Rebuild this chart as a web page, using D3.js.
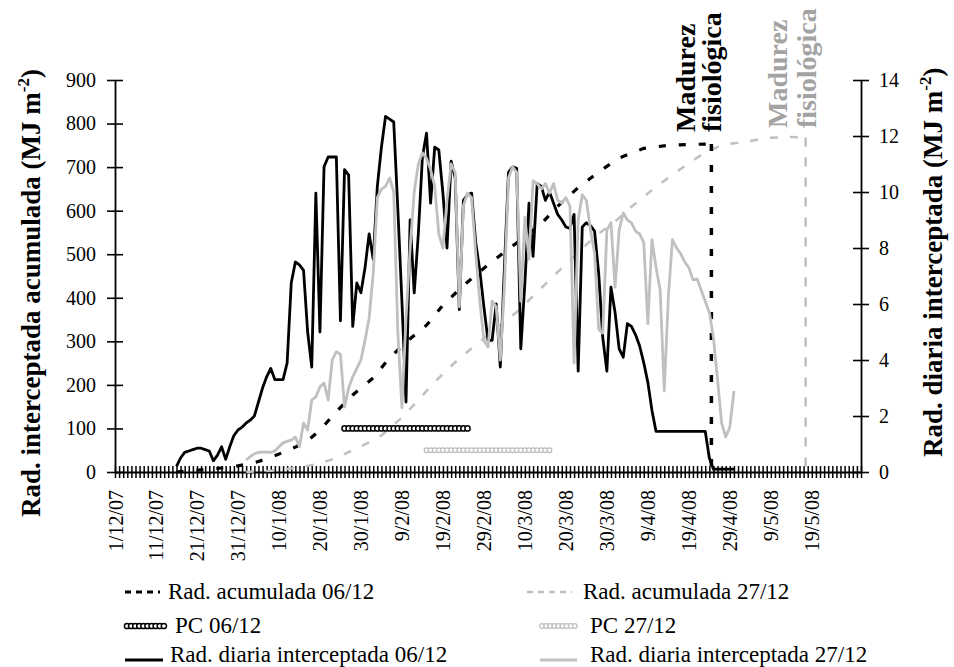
<!DOCTYPE html>
<html><head><meta charset="utf-8">
<script src="https://cdn.jsdelivr.net/npm/d3@7"></script>
<style>
html,body{margin:0;padding:0;background:#fff;}
svg{display:block;font-family:"Liberation Serif","Times New Roman",serif;}
</style></head><body>
<svg id="chart" width="954" height="667"></svg>
<script>
// Days are counted from 1/12/2007 (day 0).
const xTickDays = [0,10,20,30,40,50,60,70,80,90,100,110,120,130,140,150,160,170];
const xTickLabels = ["1/12/07","11/12/07","21/12/07","31/12/07","10/1/08","20/1/08","30/1/08","9/2/08","19/2/08","29/2/08","10/3/08","20/3/08","30/3/08","9/4/08","19/4/08","29/4/08","9/5/08","19/5/08"];
const leftTicks = [0,100,200,300,400,500,600,700,800,900];
const rightTicks = [0,2,4,6,8,10,12,14];

// Daily intercepted radiation (MJ m-2), consecutive days from the start day.
const diaria0612Start = 15;
const diaria0612 = [0.2,0.5,0.7,0.75,0.8,0.85,0.85,0.8,0.75,0.4,0.6,0.9,0.45,0.9,1.3,1.5,1.6,1.75,1.85,2.0,
  2.5,3.0,3.4,3.7,3.3,3.3,3.3,3.9,6.75,7.5,7.4,7.2,5.0,3.75,9.96,5.0,10.9,11.25,11.25,11.25,
  5.4,10.8,10.6,5.2,6.75,6.4,7.3,8.5,7.6,10.2,11.6,12.7,12.6,12.5,9.4,6.1,2.5,9.0,6.4,8.5,
  11.25,12.1,9.6,11.6,11.5,9.96,8.0,11.1,10.5,5.8,9.7,9.9,9.96,8.2,7.2,5.9,4.7,4.7,6.0,3.75,
  7.3,10.7,10.9,10.85,4.4,6.75,9.6,7.7,10.3,10.2,9.7,10.0,9.6,9.2,9.0,8.75,8.7,9.2,3.6,8.75,
  8.9,8.8,8.6,7.1,4.8,3.6,6.6,5.7,4.4,4.1,5.3,5.2,4.9,4.5,3.9,3.2,2.2,1.45,1.45,1.45,
  1.45,1.45,1.45,1.45,1.45,1.45,1.45,1.45,1.45,1.45,0.5,0.1,0.1,0.1,0.1,0.1,0.1];
const diaria2712Start = 32;
const diaria2712 = [0.43,0.55,0.65,0.7,0.71,0.71,0.7,0.75,0.9,1.04,1.1,1.14,1.25,0.9,1.75,1.5,2.57,2.68,3.04,3.18,
  2.57,4.0,4.3,4.2,2.32,3.0,3.4,3.7,4.0,4.7,5.5,7.1,9.8,10.1,10.2,10.5,10.0,5.0,2.3,5.5,
  8.0,10.0,11.0,11.4,11.2,10.8,10.2,8.5,8.0,9.7,11.0,10.7,5.9,9.5,9.96,9.8,7.8,6.1,4.7,4.46,
  6.1,5.9,4.0,6.6,10.5,10.9,10.7,6.1,9.1,7.6,10.4,10.3,10.1,10.3,9.96,10.3,9.7,9.6,9.8,9.5,
  3.9,9.0,9.9,9.7,8.64,7.8,5.1,4.96,8.64,8.9,6.6,8.64,9.25,9.0,8.9,8.6,8.5,8.2,5.3,8.3,
  7.3,6.5,2.9,6.25,8.3,8.0,7.8,7.5,7.3,6.86,6.9,6.5,6.1,5.7,4.8,3.3,1.75,1.25,1.6,2.9];

// Accumulated intercepted radiation (MJ m-2): [day, value]
const acumulada0612 = [[15,0],[20,4],[25,8],[30,14],[35,24],[38,34],[41,45],[44,57],[47,72],[50,96],
  [53,128],[56,158],[58,177],[61,200],[63,216],[67,262],[71,298],[76,337],[80,383],[85,428],
  [90,468],[95,505],[100,540],[104,570],[108,610],[113,653],[118,689],[123,721],[129,743],
  [135,750],[140,752],[145.5,753]];
const acumulada2712 = [[32,0],[38,3],[42,7],[46,12],[50,20],[54,32],[58,50],[62,68],[65,84],[70,125],
  [74,165],[78,207],[83,252],[88,292],[93,330],[98,367],[103,413],[107,450],[112,495],[117,540],
  [122,575],[126,609],[132,655],[137,689],[143,728],[148,751],[154,758],[159,767],[165,769],[168.5,768]];

// Critical period (first and last day) and its plotted level
const pcPeriod0612 = [56, 86];
const pcLevel0612 = 100;
const pcPeriod2712 = [76, 106];
const pcLevel2712 = 50;

// Physiological maturity (day)
const madurez0612 = 145.5;
const madurez2712 = 168.5;

const BLACK = "#000", GRAY = "#c0c0c0", GRAYTXT = "#a3a3a3";

const svg = d3.select("#chart");
const x = d3.scaleLinear().domain([0, 182]).range([115, 861]);
const yL = d3.scaleLinear().domain([0, 900]).range([472, 80]);
const yR = d3.scaleLinear().domain([0, 14]).range([472, 80]);

const toPairs = (start, vals) => vals.map((v, i) => [start + i, v]);

// ---- axes ----
const allDays = d3.range(0, 183);
svg.append("g").attr("transform", "translate(0,472)")
  .call(d3.axisBottom(x).tickValues(allDays).tickSizeInner(6).tickSizeOuter(0).tickFormat(""))
  .call(g => g.selectAll("line").attr("stroke-width", 1.5));
svg.append("g").attr("transform", "translate(0,472)")
  .call(d3.axisTop(x).tickValues(allDays).tickSizeInner(6).tickSizeOuter(0).tickFormat(""))
  .call(g => g.select(".domain").attr("stroke-width", 1.8))
  .call(g => g.selectAll("line").attr("stroke-width", 1.5));

svg.append("g").attr("transform", "translate(0,472)")
  .call(d3.axisBottom(x).tickValues(xTickDays).tickSize(0).tickFormat((d, i) => xTickLabels[i]))
  .call(g => g.select(".domain").remove())
  .call(g => g.selectAll("text")
    .attr("font-family", "Liberation Serif").attr("font-size", 20).attr("fill", "#000")
    .attr("transform", "rotate(-90)").attr("text-anchor", "end")
    .attr("x", -18).attr("y", 0).attr("dy", "0.35em"));

function yAxis(scale, ticks, xpos, labelSide) {
  const main = labelSide === "left" ? d3.axisLeft(scale) : d3.axisRight(scale);
  const other = labelSide === "left" ? d3.axisRight(scale) : d3.axisLeft(scale);
  svg.append("g").attr("transform", `translate(${xpos},0)`)
    .call(main.tickValues(ticks).tickSizeInner(8).tickSizeOuter(0).tickPadding(labelSide === "left" ? 11 : 10))
    .call(g => g.select(".domain").attr("stroke-width", 1.8))
    .call(g => g.selectAll("line").attr("stroke-width", 1.6))
    .call(g => g.selectAll("text").attr("font-family", "Liberation Serif").attr("font-size", 20).attr("fill", "#000"));
  svg.append("g").attr("transform", `translate(${xpos},0)`)
    .call(other.tickValues(ticks).tickSizeInner(8).tickSizeOuter(0).tickFormat(""))
    .call(g => g.select(".domain").remove())
    .call(g => g.selectAll("line").attr("stroke-width", 1.6));
}
yAxis(yL, leftTicks, x(0), "left");
yAxis(yR, rightTicks, x(182), "right");

// ---- axis titles ----
function title(tx, ty, main, color) {
  const t = svg.append("text")
    .attr("transform", `translate(${tx},${ty}) rotate(-90)`)
    .attr("font-family", "Liberation Serif").attr("font-weight", "bold")
    .attr("font-size", 27).attr("fill", color);
  t.append("tspan").text(main + " (MJ m");
  t.append("tspan").attr("font-size", 17).attr("dy", -11).text("-2");
  t.append("tspan").attr("dy", 11).text(")");
}
title(40, 517, "Rad. interceptada acumulada", "#000");
title(942, 457, "Rad. diaria interceptada", "#000");

// ---- accumulated radiation (left axis) ----
const lineL = d3.line().x(d => x(d[0])).y(d => yL(d[1]));
const lineR = d3.line().x(d => x(d[0])).y(d => yR(d[1]));

svg.append("path").datum(acumulada2712).attr("d", lineL)
  .attr("fill", "none").attr("stroke", GRAY).attr("stroke-width", 2.5).attr("stroke-dasharray", "8,12");
svg.append("path").datum(acumulada0612).attr("d", lineL)
  .attr("fill", "none").attr("stroke", BLACK).attr("stroke-width", 3.2).attr("stroke-dasharray", "7,13");

// maturity markers
svg.append("path").datum([[madurez2712, acumulada2712[acumulada2712.length - 1][1]], [madurez2712, 0]])
  .attr("d", lineL).attr("fill", "none").attr("stroke", GRAY).attr("stroke-width", 2.5).attr("stroke-dasharray", "9,11");
svg.append("path").datum([[madurez0612, acumulada0612[acumulada0612.length - 1][1]], [madurez0612, 0]])
  .attr("d", lineL).attr("fill", "none").attr("stroke", BLACK).attr("stroke-width", 3.5).attr("stroke-dasharray", "7,14");

// ---- critical period ----
function pcChain(period, level, color, r, sw) {
  const days = d3.range(period[0], period[1] + 1);
  svg.append("g").selectAll("circle").data(days).join("circle")
    .attr("cx", d => x(d)).attr("cy", yL(level)).attr("r", r)
    .attr("fill", "#fff").attr("stroke", color).attr("stroke-width", sw);
}
pcChain(pcPeriod0612, pcLevel0612, BLACK, 2.6, 1.5);
pcChain(pcPeriod2712, pcLevel2712, GRAY, 2.3, 1.3);

// ---- daily radiation (right axis) ----
svg.append("path").datum(toPairs(diaria0612Start, diaria0612)).attr("d", lineR)
  .attr("fill", "none").attr("stroke", BLACK).attr("stroke-width", 2.8).attr("stroke-linejoin", "round");
svg.append("path").datum(toPairs(diaria2712Start, diaria2712)).attr("d", lineR)
  .attr("fill", "none").attr("stroke", GRAY).attr("stroke-width", 2.8).attr("stroke-linejoin", "round");

// ---- maturity labels ----
function madurezLabel(bx1, bx2, by, color) {
  [["Madurez", bx1], ["fisiológica", bx2]].forEach(([txt, bx]) => {
    svg.append("text").attr("transform", `translate(${bx},${by}) rotate(-90)`)
      .attr("font-family", "Liberation Serif").attr("font-weight", "bold")
      .attr("font-size", 28).attr("fill", color).text(txt);
  });
}
madurezLabel(695, 721, 132, "#000");
madurezLabel(787, 816, 128, GRAYTXT);

// ---- legend ----
const lg = svg.append("g").attr("font-family", "Liberation Serif").attr("font-size", 23).attr("fill", "#000");
function legLine(x1, x2, y, color, sw, dash) {
  lg.append("line").attr("x1", x1).attr("x2", x2).attr("y1", y).attr("y2", y)
    .attr("stroke", color).attr("stroke-width", sw).attr("stroke-dasharray", dash || null);
}
function legChain(x1, x2, y, color, r, sw) {
  lg.append("g").selectAll("circle").data(d3.range(x1, x2, 4.1)).join("circle")
    .attr("cx", d => d).attr("cy", y).attr("r", r).attr("fill", "#fff").attr("stroke", color).attr("stroke-width", sw);
}
function legText(tx, ty, s) { lg.append("text").attr("x", tx).attr("y", ty).text(s); }

legLine(125, 160, 592, BLACK, 3.2, "6,5");
legText(168, 599, "Rad. acumulada 06/12");
legLine(527, 572, 592, GRAY, 2.5, "6,5");
legText(583, 599, "Rad. acumulada 27/12");

legChain(127, 166, 626, BLACK, 2.6, 1.5);
legText(175, 633, "PC 06/12");
legChain(542, 578, 626, GRAY, 2.3, 1.3);
legText(590, 633, "PC 27/12");

legLine(125, 163, 660, BLACK, 3, null);
legText(170, 662, "Rad. diaria interceptada 06/12");
legLine(540, 577, 660, GRAY, 3, null);
legText(590, 662, "Rad. diaria interceptada 27/12");
</script>
</body></html>
